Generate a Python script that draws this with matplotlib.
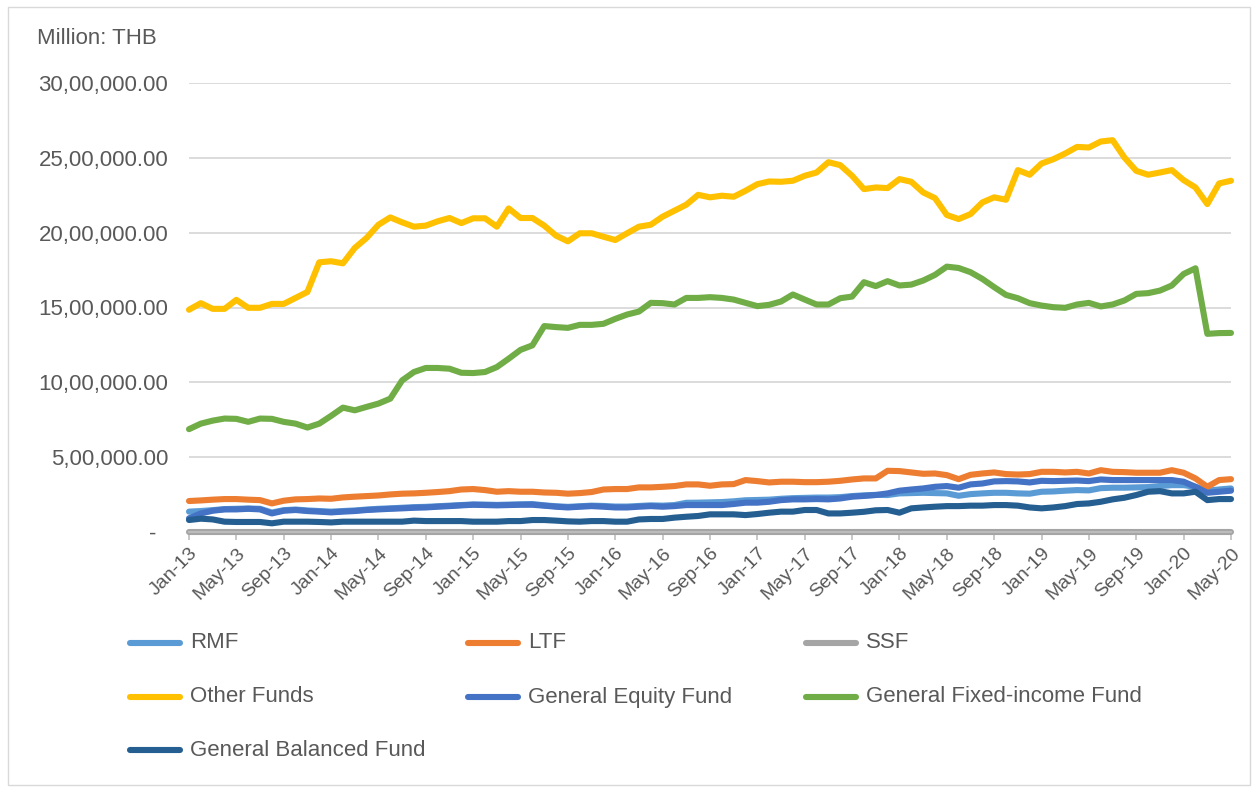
import numpy as np
import pandas as pd
import matplotlib
matplotlib.use('Agg')
import matplotlib.pyplot as plt
from matplotlib.lines import Line2D
from matplotlib.patches import Rectangle

plt.rcParams['font.family'] = ['Liberation Sans', 'DejaVu Sans']

# monthly NAV, unit: thousand million THB (x1000 -> Million THB)
months = pd.date_range('2013-01-01', periods=89, freq='MS')

rmf = [136, 140, 146, 153, 155, 157, 155, 130, 146, 150, 144, 140, 136, 140, 144, 150,
       155, 158, 162, 166, 168, 172, 176, 180, 184, 183, 181, 183, 185, 187, 178, 172,
       168, 172, 176, 174, 170, 170, 174, 178, 176, 180, 195, 196, 198, 200, 205, 212,
       214, 216, 222, 226, 228, 230, 230, 233, 240, 245, 248, 247, 258, 260, 262, 260,
       258, 242, 253, 258, 262, 262, 258, 256, 269, 271, 276, 280, 278, 293, 296, 296,
       298, 300, 307, 313, 313, 302, 276, 284, 291]

ltf = [207, 211, 216, 220, 220, 216, 213, 191, 209, 218, 220, 224, 222, 231, 236, 240,
       244, 251, 256, 258, 262, 267, 273, 284, 287, 280, 269, 273, 269, 269, 264, 262,
       256, 260, 267, 284, 287, 287, 298, 298, 302, 307, 318, 318, 309, 318, 320, 347,
       340, 331, 336, 336, 333, 333, 336, 342, 351, 358, 358, 409, 407, 398, 389, 391,
       380, 353, 382, 391, 398, 387, 384, 387, 402, 402, 398, 402, 391, 413, 402, 400,
       396, 396, 396, 413, 396, 358, 302, 347, 353]

ssf = [0, 0, 0, 0, 0, 0, 0, 0, 0, 0, 0, 0, 0, 0, 0, 0, 0, 0, 0, 0, 0, 0, 0, 0,
       0, 0, 0, 0, 0, 0, 0, 0, 0, 0, 0, 0, 0, 0, 0, 0, 0, 0, 0, 0, 0, 0, 0, 0,
       0, 0, 0, 0, 0, 0, 0, 0, 0, 0, 0, 0, 0, 0, 0, 0, 0, 0, 0, 0, 0, 0, 0, 0,
       0, 0, 0, 0, 0, 0, 0, 0, 0, 0, 0, 0, 0, 0, 0, 0, 0]

other = [1485, 1529, 1491, 1491, 1551, 1498, 1498, 1524, 1524, 1564, 1604, 1802, 1809,
         1795, 1898, 1965, 2053, 2102, 2069, 2040, 2047, 2076, 2098, 2064, 2096, 2096,
         2040, 2162, 2098, 2098, 2047, 1980, 1942, 1996, 1996, 1973, 1951, 1996, 2040,
         2053, 2107, 2147, 2187, 2253, 2236, 2247, 2240, 2280, 2324, 2342, 2340, 2347,
         2380, 2402, 2471, 2451, 2380, 2291, 2302, 2298, 2358, 2340, 2269, 2231, 2118,
         2091, 2124, 2202, 2236, 2220, 2418, 2387, 2462, 2491, 2529, 2573, 2569, 2609,
         2618, 2502, 2413, 2387, 2402, 2418, 2351, 2302, 2191, 2329, 2347]

equity = [91, 124, 142, 151, 151, 155, 151, 124, 142, 147, 140, 136, 131, 136, 140, 147,
          151, 155, 158, 162, 164, 169, 173, 178, 182, 180, 178, 180, 182, 182, 176, 169,
          164, 169, 173, 169, 164, 164, 169, 173, 169, 173, 180, 180, 180, 180, 187, 196,
          196, 202, 213, 218, 218, 220, 218, 224, 236, 241, 247, 258, 276, 284, 291, 302,
          307, 296, 318, 324, 338, 340, 338, 331, 342, 340, 342, 344, 340, 351, 347, 347,
          347, 347, 347, 347, 336, 302, 262, 269, 276]

fixed = [687, 724, 744, 758, 756, 736, 758, 756, 736, 724, 698, 724, 776, 831, 813, 836,
         858, 891, 1013, 1069, 1096, 1096, 1091, 1064, 1062, 1069, 1102, 1158, 1217, 1247,
         1376, 1369, 1364, 1384, 1384, 1391, 1424, 1453, 1473, 1531, 1529, 1520, 1564, 1564,
         1569, 1564, 1553, 1531, 1509, 1518, 1540, 1587, 1553, 1520, 1520, 1562, 1573, 1669,
         1643, 1676, 1647, 1653, 1680, 1718, 1773, 1764, 1736, 1691, 1636, 1584, 1562, 1529,
         1513, 1502, 1498, 1520, 1531, 1507, 1520, 1547, 1591, 1596, 1613, 1647, 1724, 1762,
         1324, 1329, 1330]

balanced = [80, 89, 84, 69, 67, 67, 67, 58, 69, 69, 69, 67, 64, 69, 69, 69, 69, 69, 69,
            76, 73, 73, 73, 73, 69, 69, 69, 73, 73, 80, 80, 76, 71, 69, 73, 73, 69, 69,
            84, 87, 87, 96, 102, 107, 118, 118, 118, 113, 120, 129, 136, 136, 147, 147, 124,
            124, 129, 135, 145, 147, 129, 158, 164, 169, 173, 173, 176, 176, 180, 180, 176,
            164, 158, 164, 173, 187, 191, 202, 218, 229, 247, 269, 273, 258, 258, 269, 213,
            220, 220]

names = ['RMF', 'LTF', 'SSF', 'Other Funds', 'General Equity Fund',
         'General Fixed-income Fund', 'General Balanced Fund']
colors = ['#5B9BD5', '#ED7D31', '#A5A5A5', '#FFC000', '#4472C4', '#70AD47', '#255E91']
series = [rmf, ltf, ssf, other, equity, fixed, balanced]

W, H = 1258, 787
grey_txt = '#595959'


def fx(px):
    return px / W


def fy(py):
    return 1 - py / H


def indian(v):
    if v == 0:
        return '-  '
    s = str(int(v))
    head, tail = s[:-3], s[-3:]
    parts = []
    while len(head) > 2:
        parts.insert(0, head[-2:])
        head = head[:-2]
    if head:
        parts.insert(0, head)
    return ','.join(parts + [tail]) + '.00'


fig = plt.figure(figsize=(W / 100, H / 100), dpi=100)
fig.add_artist(Rectangle((fx(8), fy(785)), fx(1250) - fx(8), fy(7) - fy(785),
                         transform=fig.transFigure, fill=False, ec='#D9D9D9', lw=1))

ax = fig.add_axes([fx(189), fy(532), fx(1231) - fx(189), fy(83) - fy(532)])
x = np.arange(len(months))
for vals, c, n in zip(series, colors, names):
    ax.plot(x, np.array(vals) * 1000, color=c, lw=4.4, label=n, clip_on=False,
            solid_capstyle='round', solid_joinstyle='round')

ax.set_xlim(0, 88)
ax.set_ylim(0, 3000000)
yt = np.arange(0, 3000001, 500000)
ax.set_yticks(yt)
ax.set_yticklabels([indian(v) for v in yt])
ax.yaxis.grid(True, color='#D9D9D9', lw=1.3)
ax.set_axisbelow(True)
for s in ['top', 'right', 'left']:
    ax.spines[s].set_visible(False)
ax.spines['bottom'].set_color('#BFBFBF')
ax.spines['bottom'].set_linewidth(1.3)
ax.tick_params(axis='y', length=0, pad=15, labelsize=16, labelcolor=grey_txt)

xt = x[::4]
ax.set_xticks(xt)
ax.set_xticklabels([months[i].strftime('%b-%y') for i in xt], rotation=45,
                   ha='right', rotation_mode='anchor')
ax.tick_params(axis='x', length=6, width=1.2, color='#BFBFBF', direction='out',
               labelsize=14, labelcolor=grey_txt, pad=3)

fig.text(fx(37), fy(38), 'Million: THB', fontsize=16, color=grey_txt, va='center')

# legend, 3 columns, row-major
col_x = [130, 468, 806]
row_y = [643, 697, 750]
for k, (n, c) in enumerate(zip(names, colors)):
    r, col = divmod(k, 3)
    x0 = col_x[col]
    y0 = row_y[r]
    fig.add_artist(Line2D([fx(x0), fx(x0 + 50)], [fy(y0), fy(y0)], color=c, lw=4.4,
                          transform=fig.transFigure, solid_capstyle='round'))
    fig.text(fx(x0 + 60), fy(y0), n, fontsize=16, color=grey_txt, va='center')

fig.savefig('out.png', dpi=100)
